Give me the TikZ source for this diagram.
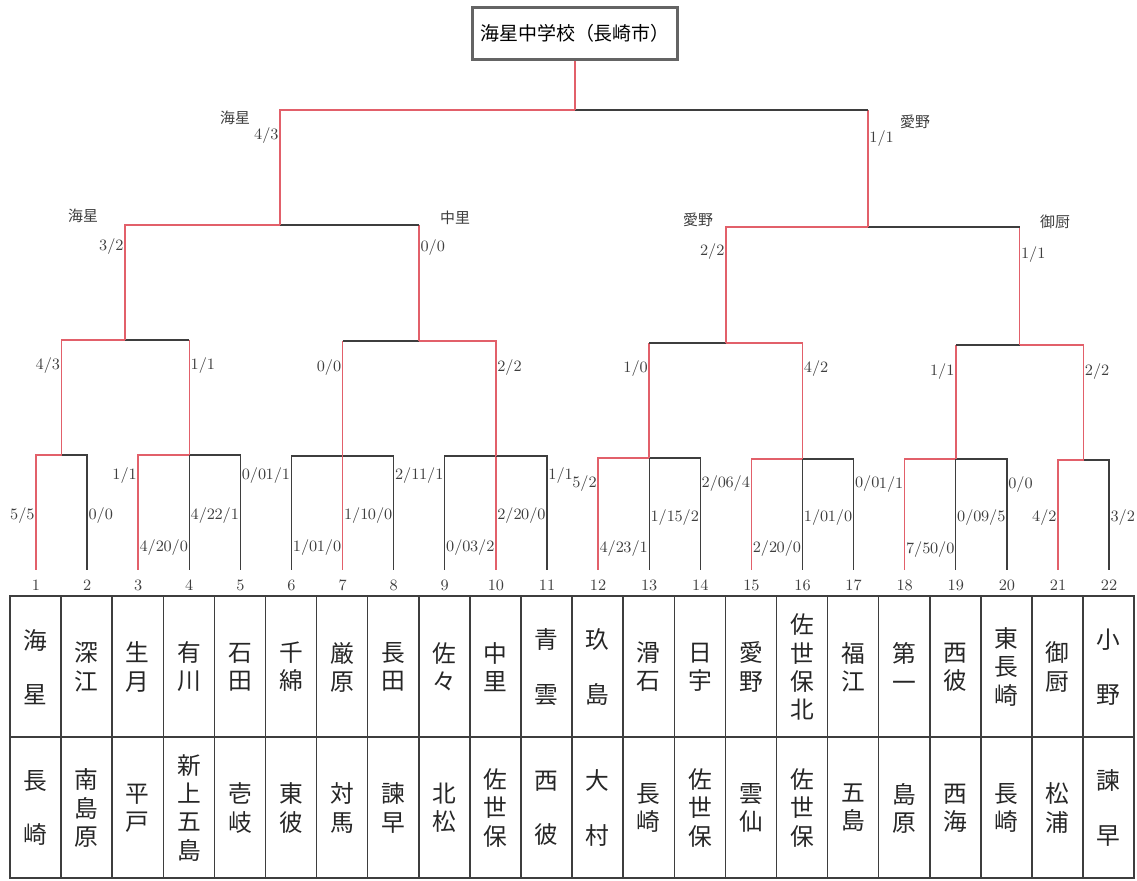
\documentclass[tikz,border=0pt]{standalone}
\usepackage{fontspec}
\newfontfamily\jp{Noto Sans CJK JP}
\definecolor{winred}{RGB}{226,96,106}
\definecolor{lossgray}{RGB}{62,62,62}
\definecolor{framegray}{RGB}{100,100,100}

\begin{document}
\begin{tikzpicture}[x=0.02cm,y=-0.02cm,
  win/.style={draw=winred,line width=0.9pt},
  loss/.style={draw=lossgray,line width=0.7pt},
  score/.style={text=lossgray,inner sep=0.6pt,font=\fontsize{9}{10}\selectfont},
  slotnum/.style={text=lossgray,inner sep=0pt,font=\fontsize{9}{10}\selectfont},
  school/.style={text=lossgray,inner sep=0pt,font=\jp\fontsize{8.5}{10}\selectfont},
  cell/.style={text=black!85,inner sep=0pt,align=center,font=\jp\fontsize{13.5}{#1}\selectfont},
  titlebox/.style={draw=framegray,line width=2pt,fill=white,minimum width=4.1cm,
    minimum height=1.04cm,font=\jp\fontsize{10.8}{12}\selectfont}]
 % \draw[help lines] (0,0) grid (1137,881);
 \useasboundingbox (0,0) rectangle (1137,881);

 % slots and their numbers
 \foreach \i in {1,...,22} {
   \coordinate (s\i) at ({36+51.1*(\i-1)},570);
   \node[slotnum] (n\i) at ({36+51.1*(\i-1)},585) {\i};
 }

 % first round groups
 \coordinate (gA) at (61.5,455);   \coordinate (gB) at (s4 |- 0,455);
 \coordinate (gC) at (s7 |- 0,456); \coordinate (gD) at (s10 |- 0,456);
 \coordinate (gE) at (s13 |- 0,458); \coordinate (gF) at (s16 |- 0,459);
 \coordinate (gG) at (s19 |- 0,459); \coordinate (gH) at (1083.5,460);
 \draw[win] (s1) |- (gA);   \draw[loss] (s2) |- (gA);
 \draw[win] (s3) |- (gB);   \draw[loss] (s4) -- (gB);  \draw[loss] (s5) |- (gB);
 \draw[loss] (s6) |- (gC);  \draw[win] (s7) -- (gC);   \draw[loss] (s8) |- (gC);
 \draw[loss] (s9) |- (gD);  \draw[win] (s10) -- (gD);  \draw[loss] (s11) |- (gD);
 \draw[win] (s12) |- (gE);  \draw[loss] (s13) -- (gE); \draw[loss] (s14) |- (gE);
 \draw[win] (s15) |- (gF);  \draw[loss] (s16) -- (gF); \draw[loss] (s17) |- (gF);
 \draw[win] (s18) |- (gG);  \draw[loss] (s19) -- (gG); \draw[loss] (s20) |- (gG);
 \draw[win] (s21) |- (gH);  \draw[loss] (s22) |- (gH);

 % second round
 \coordinate (qAB) at (125,340);   \coordinate (qCD) at (419.2,341);
 \coordinate (qEF) at (725.9,343); \coordinate (qGH) at (1019.7,345);
 \draw[win] (gA) |- (qAB);
 \draw[win] (gB) -- (gB |- qAB);  \draw[loss] (gB |- qAB) -- (qAB);
 \draw[win] (gC) -- (gC |- qCD);  \draw[loss] (gC |- qCD) -- (qCD);
 \draw[win] (gD) |- (qCD);
 \draw[win] (gE) -- (gE |- qEF);  \draw[loss] (gE |- qEF) -- (qEF);
 \draw[win] (gF) |- (qEF);
 \draw[win] (gG) -- (gG |- qGH);  \draw[loss] (gG |- qGH) -- (qGH);
 \draw[win] (gH) |- (qGH);

 % semi finals and final
 \coordinate (pL) at (280,225); \coordinate (pR) at (868,227);
 \draw[win] (qAB) |- (pL);
 \draw[win] (qCD) -- (qCD |- pL); \draw[loss] (qCD |- pL) -- (pL);
 \draw[win] (qEF) |- (pR);
 \draw[win] (qGH) -- (qGH |- pR); \draw[loss] (qGH |- pR) -- (pR);
 \coordinate (fin) at (575,110);
 \draw[win] (pL) |- (fin);
 \draw[win] (pR) -- (pR |- fin); \draw[loss] (pR |- fin) -- (fin);

 \node[titlebox] (champ) at (575,33.5) {海星中学校（長崎市）};
 \draw[win] (fin) -- (champ);

 % group scores: slot / height / anchor / score
 \foreach \s/\y/\an/\p/\q [count=\k] in {
   1/516/east/5/5, 2/516/west/0/0,
   3/476/east/1/1, 5/476/west/0/0, 3/548/west/4/2, 4/548/east/0/0, 4/516/west/4/2, 5/516/east/2/1,
   6/476/east/1/1, 8/476/west/2/1, 6/548/west/1/0, 7/548/east/1/0, 7/516/west/1/1, 8/516/east/0/0,
   9/476/east/1/1, 11/476/west/1/1, 9/548/west/0/0, 10/548/east/3/2, 10/516/west/2/2, 11/516/east/0/0,
   12/484/east/5/2, 14/484/west/2/0, 12/549/west/4/2, 13/549/east/3/1, 13/518/west/1/1, 14/518/east/5/2,
   15/484/east/6/4, 17/484/west/0/0, 15/549/west/2/2, 16/549/east/0/0, 16/518/west/1/0, 17/518/east/1/0,
   18/485/east/1/1, 20/485/west/0/0, 18/550/west/7/5, 19/550/east/0/0, 19/518/west/0/0, 20/518/east/9/5,
   21/518/east/4/2, 22/518/west/3/2}
   \node[score,anchor=\an] (r\k) at (s\s |- 0,\y) {\p/\q};

 % upper scores
 \foreach \c/\y/\an/\p/\q [count=\k] in {
   gA/366/east/4/3, gB/366/west/1/1, gC/368/east/0/0, gD/368/west/2/2,
   gE/369/east/1/0, gF/369/west/4/2, gG/372/east/1/1, gH/372/west/2/2,
   qAB/247/east/3/2, qCD/248/west/0/0, qEF/252/east/2/2, qGH/255/west/1/1,
   pL/136/east/4/3, pR/139/west/1/1}
   \node[score,anchor=\an] (u\k) at (\c |- 0,\y) {\p/\q};

 \node[school] (w1) at (83,216)  {海星};
 \node[school] (w2) at (455,218) {中里};
 \node[school] (w3) at (698,220) {愛野};
 \node[school] (w4) at (1055,222) {御厨};
 \node[school] (w5) at (235,118) {海星};
 \node[school] (w6) at (915,122) {愛野};

 % entry table
 \draw[loss,line width=0.9pt] (10,596) rectangle (1134,878);
 \draw[loss,line width=0.9pt] (10,737) -- (1134,737);
 \foreach \k in {1,...,21}
   \draw[loss,line width=0.9pt] ({10+51.1*\k},596) -- ({10+51.1*\k},878);
 \foreach \i/\ls/\up/\dn in {
   1/31/海\\星/長\\崎, 2/16/深\\江/南\\島\\原, 3/16/生\\月/平\\戸,
   4/16/有\\川/新\\上\\五\\島, 5/16/石\\田/壱\\岐, 6/16/千\\綿/東\\彼,
   7/16/厳\\原/対\\馬, 8/16/長\\田/諫\\早, 9/16/佐\\々/北\\松,
   10/16/中\\里/佐\\世\\保, 11/31/青\\雲/西\\彼, 12/31/玖\\島/大\\村,
   13/16/滑\\石/長\\崎, 14/16/日\\宇/佐\\世\\保, 15/16/愛\\野/雲\\仙,
   16/16/佐\\世\\保\\北/佐\\世\\保, 17/16/福\\江/五\\島, 18/16/第\\一/島\\原,
   19/16/西\\彼/西\\海, 20/16/東\\長\\崎/長\\崎, 21/16/御\\厨/松\\浦,
   22/31/小\\野/諫\\早} {
   \node[cell=\ls] (t\i) at ({35.6+51.1*(\i-1)},667) {\up};
   \node[cell=\ls] (b\i) at ({35.6+51.1*(\i-1)},808) {\dn};
 }
\end{tikzpicture}
\end{document}
